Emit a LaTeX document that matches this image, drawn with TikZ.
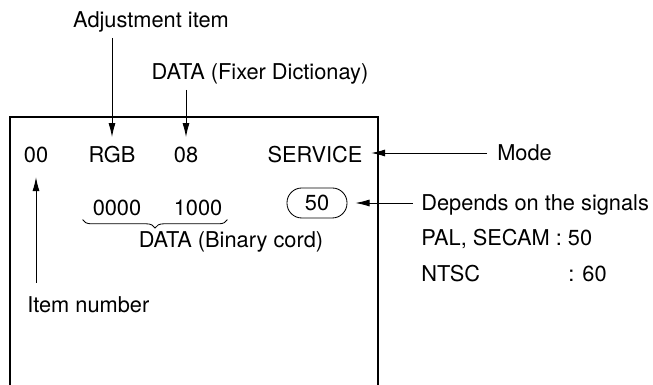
\documentclass[tikz,border=0pt]{standalone}
\usepackage{fontspec}
\setmainfont{TeX Gyre Heros}
\usepackage{tikz}
\usetikzlibrary{arrows.meta, positioning, calc, decorations.pathreplacing}

\begin{document}
\begin{tikzpicture}[
    x=0.025cm, y=-0.025cm,
    lbl/.style={inner sep=0pt, text height=11.1pt, text depth=0pt, font=\fontsize{15.5}{18}\selectfont},
    arrow/.style={-{Latex[length=10pt, width=5pt]}, line width=0.6pt, shorten <=7pt, shorten >=7pt},
    frame/.style={line width=0.9pt},
    brace/.style={decorate, decoration={brace, mirror, amplitude=6pt}, line width=0.6pt}
]
\useasboundingbox (0,0) rectangle (653,385);

% screen (open at the bottom)
\draw[frame] (10,385) -- (10,117) -- (378,117) -- (378,385);

\node[lbl] (adjItem) at (151,20) {Adjustment item};
\node[lbl] (dataFixer) at (260,72) {DATA (Fixer Dictionay)};

\node[lbl] (itemNo) at (36,155) {00};
\node[lbl] (rgb) at (112,155) {RGB};
\node[lbl] (data08) at (186,155) {08};
\node[lbl] (service) at (315,155) {SERVICE};
\node[lbl, anchor=west] (mode) at (497,153) {Mode};

\node[lbl] (bin0) at (117,208) {0000};
\node[lbl] (bin1) at (198,208) {1000};
\node[lbl] (dataBin) at (231,240) {DATA (Binary cord)};
\node[lbl, draw, line width=0.6pt, rounded corners=10.5pt, minimum width=1.5cm, minimum height=0.75cm] (rate) at (317,203) {50};

\node[lbl, anchor=west] (depends) at (421,203) {Depends on the signals};
\node[lbl, anchor=west] (pal) at (421,238) {PAL, SECAM : 50};
\node[lbl, anchor=west] (ntsc) at (421,274) {NTSC};
\node[lbl, anchor=west] (ntscVal) at (568,274) {: 60};

\node[lbl, anchor=west] (itemNumber) at (27,305) {Item number};

\draw[arrow] (rgb.north |- adjItem.south) -- (rgb.north);
\draw[arrow] (data08.north |- dataFixer.south) -- (data08.north);
\draw[arrow, shorten <=10pt, shorten >=10pt] (itemNo.south |- itemNumber.north) -- (itemNo.south);
\draw[arrow, shorten >=6pt] (mode.west) -- (service.east |- mode.west);
\draw[arrow, shorten <=5.7pt, shorten >=5.7pt] (depends.west) -- (rate.east);

\draw[brace] ([shift={(-7pt,-2.5pt)}]bin0.south west) -- ([shift={(3.5pt,-2.5pt)}]bin1.south east);

\end{tikzpicture}
\end{document}
